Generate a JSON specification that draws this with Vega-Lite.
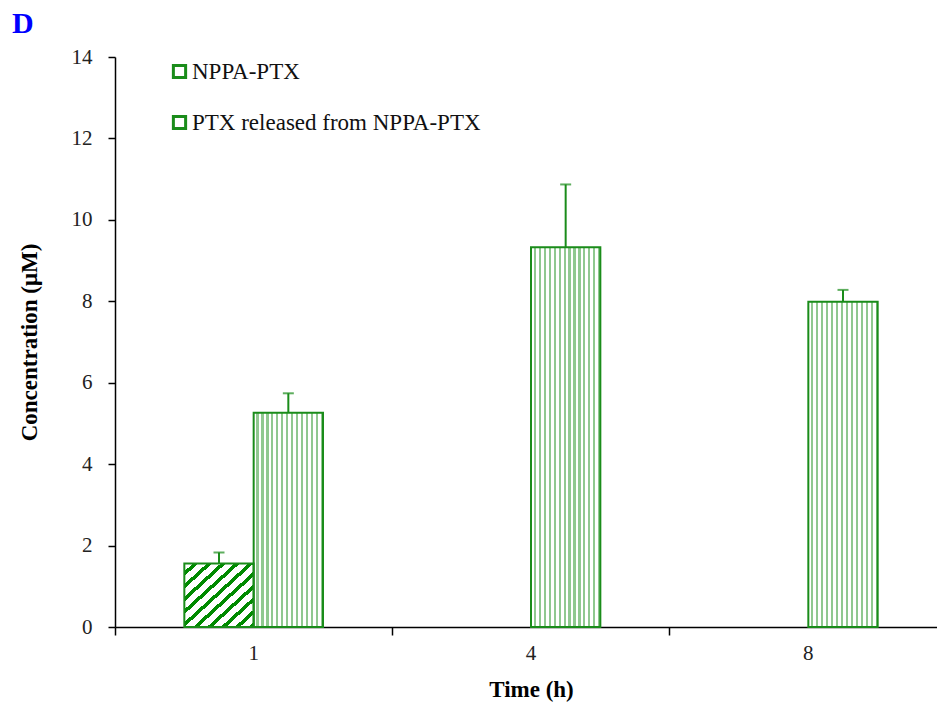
{
  "$schema": "https://vega.github.io/schema/vega-lite/v6.json",
  "width": 832,
  "height": 570,
  "autosize": {"type": "none"},
  "padding": {"left": 115, "top": 57, "right": -10, "bottom": 77},
  "background": "white",
  "title": {"text": "D", "anchor": "start", "frame": "group", "font": "Liberation Serif", "fontSize": 30, "fontWeight": "bold", "color": "#0000ff", "dx": -103, "dy": 41, "offset": 24, "baseline": "alphabetic"},
  "data": {"values": [
    {"time": "1", "series": "NPPA-PTX", "value": 1.56, "upper": 1.83},
    {"time": "1", "series": "PTX released from NPPA-PTX", "value": 5.26, "upper": 5.74},
    {"time": "4", "series": "PTX released from NPPA-PTX", "value": 9.33, "upper": 10.87},
    {"time": "8", "series": "PTX released from NPPA-PTX", "value": 7.99, "upper": 8.28}
  ]},
  "encoding": {
    "x": {"field": "time", "type": "ordinal", "sort": ["1", "4", "8"], "scale": {"paddingInner": 0, "paddingOuter": 0},
      "axis": {"title": "Time (h)", "bandPosition": 0, "labelAngle": 0, "tickSize": 8, "labelPadding": 7, "titlePadding": 15}},
    "xOffset": {"field": "series", "type": "nominal", "sort": ["NPPA-PTX", "PTX released from NPPA-PTX"], "scale": {"paddingInner": 0, "paddingOuter": 1.15}}
  },
  "layer": [
    {
      "transform": [{"filter": "datum.series === 'NPPA-PTX'"}],
      "mark": {"type": "bar", "fill": {"gradient": "linear", "x1": 0, "y1": 0, "x2": 1, "y2": 1, "stops": [
        {"offset": 0, "color": "#ffffff"}, {"offset": 0.062, "color": "#ffffff"}, {"offset": 0.062, "color": "#008a00"}, {"offset": 0.1, "color": "#008a00"},
        {"offset": 0.1, "color": "#ffffff"}, {"offset": 0.162, "color": "#ffffff"}, {"offset": 0.162, "color": "#008a00"}, {"offset": 0.2, "color": "#008a00"},
        {"offset": 0.2, "color": "#ffffff"}, {"offset": 0.262, "color": "#ffffff"}, {"offset": 0.262, "color": "#008a00"}, {"offset": 0.3, "color": "#008a00"},
        {"offset": 0.3, "color": "#ffffff"}, {"offset": 0.362, "color": "#ffffff"}, {"offset": 0.362, "color": "#008a00"}, {"offset": 0.4, "color": "#008a00"},
        {"offset": 0.4, "color": "#ffffff"}, {"offset": 0.462, "color": "#ffffff"}, {"offset": 0.462, "color": "#008a00"}, {"offset": 0.5, "color": "#008a00"},
        {"offset": 0.5, "color": "#ffffff"}, {"offset": 0.562, "color": "#ffffff"}, {"offset": 0.562, "color": "#008a00"}, {"offset": 0.6, "color": "#008a00"},
        {"offset": 0.6, "color": "#ffffff"}, {"offset": 0.662, "color": "#ffffff"}, {"offset": 0.662, "color": "#008a00"}, {"offset": 0.7, "color": "#008a00"},
        {"offset": 0.7, "color": "#ffffff"}, {"offset": 0.762, "color": "#ffffff"}, {"offset": 0.762, "color": "#008a00"}, {"offset": 0.8, "color": "#008a00"},
        {"offset": 0.8, "color": "#ffffff"}, {"offset": 0.862, "color": "#ffffff"}, {"offset": 0.862, "color": "#008a00"}, {"offset": 0.9, "color": "#008a00"},
        {"offset": 0.9, "color": "#ffffff"}, {"offset": 0.962, "color": "#ffffff"}, {"offset": 0.962, "color": "#008a00"}, {"offset": 1, "color": "#008a00"}
      ]}},
      "encoding": {
        "y": {"field": "value", "type": "quantitative", "title": "Concentration (μM)", "scale": {"domain": [0, 14]},
          "axis": {"values": [0, 2, 4, 6, 8, 10, 12, 14], "tickSize": 7, "labelPadding": 16, "titlePadding": 30}}
      }
    },
    {
      "transform": [{"filter": "datum.series !== 'NPPA-PTX'"}],
      "mark": {"type": "bar", "fill": {"gradient": "linear", "x1": 0, "y1": 0, "x2": 1, "y2": 0, "stops": [
        {"offset": 0, "color": "#ffffff"}, {"offset": 0.0407, "color": "#ffffff"}, {"offset": 0.0407, "color": "#90c890"}, {"offset": 0.0714, "color": "#90c890"},
        {"offset": 0.0714, "color": "#ffffff"}, {"offset": 0.1121, "color": "#ffffff"}, {"offset": 0.1121, "color": "#90c890"}, {"offset": 0.1429, "color": "#90c890"},
        {"offset": 0.1429, "color": "#ffffff"}, {"offset": 0.1836, "color": "#ffffff"}, {"offset": 0.1836, "color": "#90c890"}, {"offset": 0.2143, "color": "#90c890"},
        {"offset": 0.2143, "color": "#ffffff"}, {"offset": 0.255, "color": "#ffffff"}, {"offset": 0.255, "color": "#90c890"}, {"offset": 0.2857, "color": "#90c890"},
        {"offset": 0.2857, "color": "#ffffff"}, {"offset": 0.3264, "color": "#ffffff"}, {"offset": 0.3264, "color": "#90c890"}, {"offset": 0.3571, "color": "#90c890"},
        {"offset": 0.3571, "color": "#ffffff"}, {"offset": 0.3978, "color": "#ffffff"}, {"offset": 0.3978, "color": "#90c890"}, {"offset": 0.4286, "color": "#90c890"},
        {"offset": 0.4286, "color": "#ffffff"}, {"offset": 0.4693, "color": "#ffffff"}, {"offset": 0.4693, "color": "#90c890"}, {"offset": 0.5, "color": "#90c890"},
        {"offset": 0.5, "color": "#ffffff"}, {"offset": 0.5407, "color": "#ffffff"}, {"offset": 0.5407, "color": "#90c890"}, {"offset": 0.5714, "color": "#90c890"},
        {"offset": 0.5714, "color": "#ffffff"}, {"offset": 0.6121, "color": "#ffffff"}, {"offset": 0.6121, "color": "#90c890"}, {"offset": 0.6429, "color": "#90c890"},
        {"offset": 0.6429, "color": "#ffffff"}, {"offset": 0.6836, "color": "#ffffff"}, {"offset": 0.6836, "color": "#90c890"}, {"offset": 0.7143, "color": "#90c890"},
        {"offset": 0.7143, "color": "#ffffff"}, {"offset": 0.755, "color": "#ffffff"}, {"offset": 0.755, "color": "#90c890"}, {"offset": 0.7857, "color": "#90c890"},
        {"offset": 0.7857, "color": "#ffffff"}, {"offset": 0.8264, "color": "#ffffff"}, {"offset": 0.8264, "color": "#90c890"}, {"offset": 0.8571, "color": "#90c890"},
        {"offset": 0.8571, "color": "#ffffff"}, {"offset": 0.8978, "color": "#ffffff"}, {"offset": 0.8978, "color": "#90c890"}, {"offset": 0.9286, "color": "#90c890"},
        {"offset": 0.9286, "color": "#ffffff"}, {"offset": 0.9693, "color": "#ffffff"}, {"offset": 0.9693, "color": "#90c890"}, {"offset": 1, "color": "#90c890"}
      ]}},
      "encoding": {
        "y": {"field": "value", "type": "quantitative", "title": "Concentration (μM)"}
      }
    },
    {
      "mark": {"type": "bar", "fill": "transparent", "strokeWidth": 2},
      "encoding": {
        "y": {"field": "value", "type": "quantitative", "title": "Concentration (μM)"},
        "stroke": {"field": "series", "type": "nominal", "sort": ["NPPA-PTX", "PTX released from NPPA-PTX"],
          "scale": {"range": ["#1a8c1a", "#1a8c1a"]},
          "legend": {"title": null, "orient": "none", "legendX": 53, "legendY": 3, "direction": "vertical", "symbolType": "square", "symbolSize": 150, "symbolStrokeWidth": 3, "symbolFillColor": "#ffffff", "labelFont": "Liberation Serif", "labelFontSize": 23, "labelColor": "#111111", "labelLimit": 0, "rowPadding": 26, "labelOffset": 1, "padding": 0}}
      }
    },
    {
      "mark": {"type": "rule", "color": "#1a8c1a", "strokeWidth": 2},
      "encoding": {
        "y": {"field": "value", "type": "quantitative", "title": "Concentration (μM)"},
        "y2": {"field": "upper"}
      }
    },
    {
      "mark": {"type": "tick", "color": "#1a8c1a", "thickness": 2, "size": 11},
      "encoding": {
        "y": {"field": "upper", "type": "quantitative", "title": "Concentration (μM)"}
      }
    }
  ],
  "config": {
    "view": {"stroke": null},
    "axis": {"labelFont": "Liberation Serif", "labelFontSize": 21, "labelColor": "#222222", "titleFont": "Liberation Serif", "titleFontSize": 23, "titleFontWeight": "bold", "titleColor": "#000000", "domainColor": "#000000", "domainWidth": 1.5, "tickColor": "#000000", "tickWidth": 1.5, "grid": false}
  }
}
